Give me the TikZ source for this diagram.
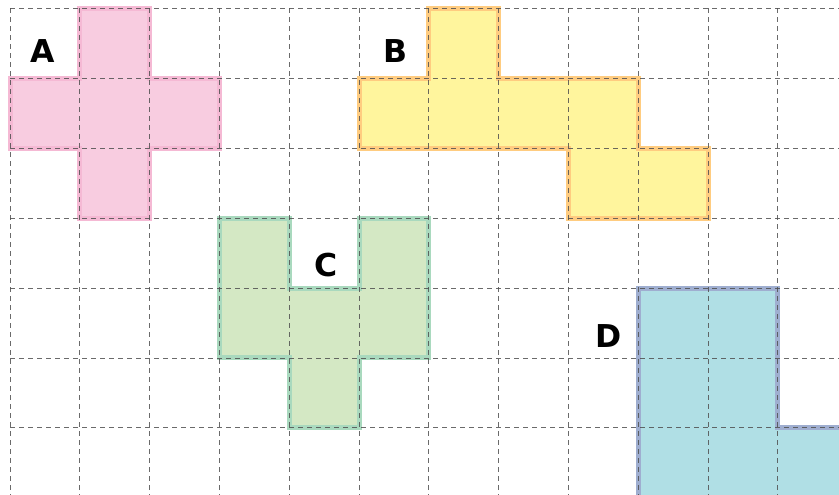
\documentclass[tikz,border=0pt]{standalone}
\usepackage{fontspec}
\newfontfamily\labfont{DejaVu Sans}[BoldFont={DejaVu Sans Bold}]
\definecolor{pinkfill}{HTML}{F8CCE0}
\definecolor{pinkline}{HTML}{F5B9D4}
\definecolor{yelfill}{HTML}{FFF59D}
\definecolor{yelline}{HTML}{FFCC80}
\definecolor{grnfill}{HTML}{D4E8C4}
\definecolor{grnline}{HTML}{A9D9BE}
\definecolor{blufill}{HTML}{B0DFE5}
\definecolor{bluline}{HTML}{9FAED0}
\definecolor{gridcol}{HTML}{505050}
\begin{document}
\begin{tikzpicture}[x=69.8pt,y=-69.9pt,
  piece/.style={line width=5pt,line join=miter},
  gridline/.style={draw=gridcol,line width=0.9pt,dash pattern=on 5pt off 4pt,opacity=0.85},
  lab/.style={font=\labfont\bfseries\fontsize{31.5}{36}\selectfont,inner sep=0pt,anchor=center}]
\useasboundingbox (-0.14327,-0.1216) rectangle (11.8768,6.9600);
% pieces
\filldraw[piece,fill=pinkfill,draw=pinkline] (1,0)--(2,0)--(2,1)--(3,1)--(3,2)--(2,2)--(2,3)--(1,3)--(1,2)--(0,2)--(0,1)--(1,1)--cycle;
\filldraw[piece,fill=yelfill,draw=yelline] (6,0)--(7,0)--(7,1)--(9,1)--(9,2)--(10,2)--(10,3)--(8,3)--(8,2)--(5,2)--(5,1)--(6,1)--cycle;
\filldraw[piece,fill=grnfill,draw=grnline] (3,3)--(4,3)--(4,4)--(5,4)--(5,3)--(6,3)--(6,5)--(5,5)--(5,6)--(4,6)--(4,5)--(3,5)--cycle;
\filldraw[piece,fill=blufill,draw=bluline] (9,4)--(11,4)--(11,6)--(12,6)--(12,7.2)--(9,7.2)--cycle;
% grid
\foreach \i in {0,...,11} \draw[gridline] (\i,0) -- (\i,7.1);
\foreach \j in {0,...,6} \draw[gridline] (0,\j) -- (12.1,\j);
% labels
\node[lab] (la) at (0.4656,0.6152) {A};
\node[lab] (lb) at (5.516,0.6152) {B};
\node[lab] (lc) at (4.534,3.677) {C};
\node[lab] (ld) at (8.574,4.685) {D};
\end{tikzpicture}
\end{document}
